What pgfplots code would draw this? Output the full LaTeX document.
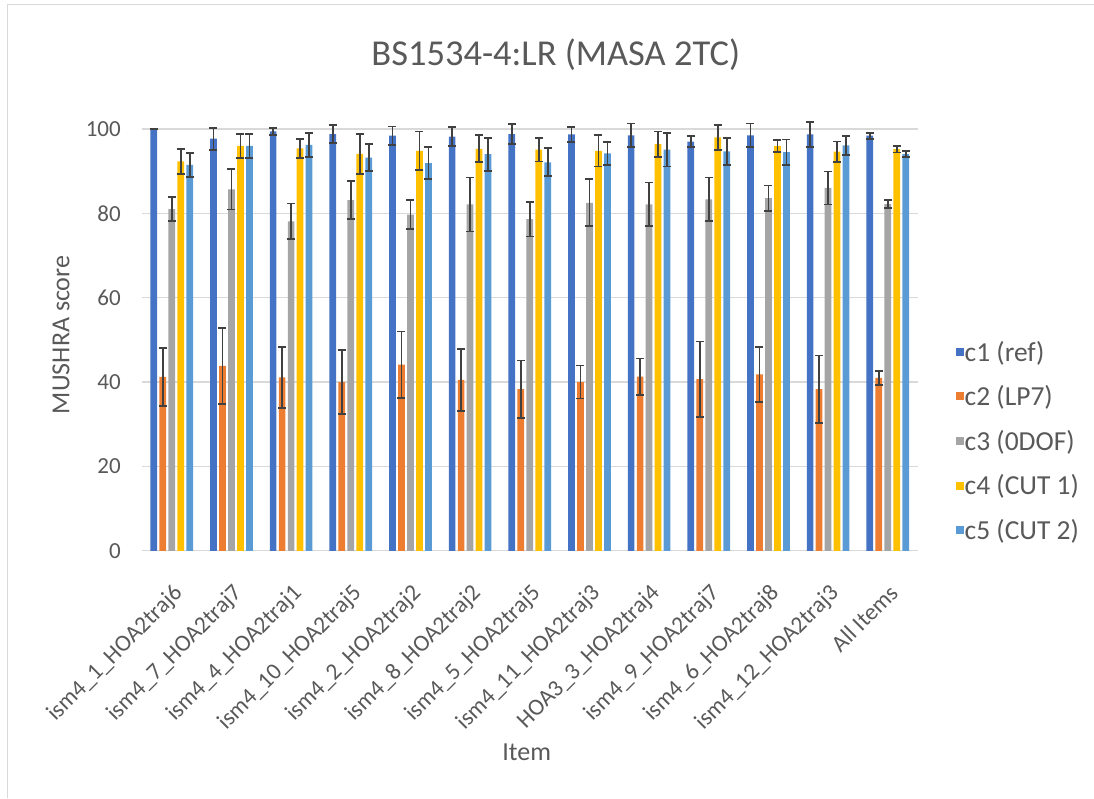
\documentclass[border=0pt]{standalone}
\usepackage{pgfplots}
\usepackage{pgfplotstable}
\pgfplotsset{compat=1.18}
\usepackage{fontspec}
\setmainfont{Carlito}

\definecolor{cA}{HTML}{4472C4}
\definecolor{cB}{HTML}{ED7D31}
\definecolor{cC}{HTML}{A5A5A5}
\definecolor{cD}{HTML}{FFC000}
\definecolor{cE}{HTML}{5B9BD5}
\definecolor{txt}{HTML}{595959}
\definecolor{grd}{HTML}{D9D9D9}
\definecolor{err}{HTML}{404040}

% x  mean/err for c1..c5
\pgfplotstableread{
x  a     ae   b     be   c     ce   d     de   e     ee
0  100.0 0.0  41.2  6.8  81.0  2.9  92.3  2.9  91.5  2.8
1  97.7  2.6  43.8  9.1  85.7  4.8  96.0  2.8  96.0  2.8
2  99.4  0.9  41.1  7.2  78.1  4.2  95.4  2.2  96.2  2.9
3  98.8  2.1  40.0  7.6  83.1  4.5  94.1  4.7  93.2  3.2
4  98.4  2.2  44.1  7.9  79.7  3.4  94.8  4.6  91.9  3.8
5  98.2  2.2  40.5  7.3  82.1  6.4  95.3  3.2  94.0  3.9
6  98.8  2.4  38.3  6.8  78.6  4.1  95.1  2.8  92.1  3.3
7  98.7  1.8  40.0  3.9  82.5  5.6  94.8  3.7  94.2  2.7
8  98.5  2.8  41.3  4.3  82.1  5.2  96.4  3.0  95.1  4.0
9  97.0  1.3  40.7  8.9  83.3  5.2  98.0  2.9  94.7  3.2
10 98.5  2.8  41.8  6.5  83.6  3.0  95.9  1.4  94.5  3.0
11 98.7  2.9  38.3  8.0  86.0  3.9  94.6  2.4  96.1  2.2
12 98.4  0.7  41.0  1.7  82.2  1.0  95.2  0.8  94.0  0.7
}\data

\begin{document}
\begin{tikzpicture}
\path (0,0) rectangle (1094pt,798pt);
\draw[grd, line width=1pt] (8pt,0) -- (8pt,793pt) -- (1094pt,793pt);
\node[txt, font=\fontsize{36.5}{40}\selectfont] at (556pt,743pt) {BS1534-4:LR (MASA 2TC)};
\begin{axis}[
  at={(142pt,247pt)}, anchor=south west,
  width=776pt, height=422pt, scale only axis,
  ybar, bar width=6.7pt,
  xmin=-0.5, xmax=12.5, ymin=0, ymax=100,
  ytick={0,20,40,60,80,100},
  xtick={0,...,12},
  xticklabels={ism4\_1\_HOA2traj6, ism4\_7\_HOA2traj7, ism4\_4\_HOA2traj1, ism4\_10\_HOA2traj5, ism4\_2\_HOA2traj2, ism4\_8\_HOA2traj2, ism4\_5\_HOA2traj5, ism4\_11\_HOA2traj3, HOA3\_3\_HOA2traj4, ism4\_9\_HOA2traj7, ism4\_6\_HOA2traj8, ism4\_12\_HOA2traj3, All Items},
  major tick length=0pt,
  axis line style={draw=none},
  ymajorgrids, grid style={grd, line width=1.3pt},
  clip=false,
  /pgf/number format/assume math mode=true,
  ticklabel style={txt},
  yticklabel style={font=\fontsize{23}{26}\selectfont, inner sep=0pt, xshift=-21pt},
  xticklabel style={font=\fontsize{23.5}{27}\selectfont, rotate=45, anchor=north east, inner sep=0pt},
  xticklabel shift=32pt,
  legend style={at={(axis description cs:1.045,0.26)}, anchor=west, draw=none, fill=none,
    font=\fontsize{27.5}{30}\selectfont, text=txt, row sep=21pt,
    nodes={inner sep=1pt}},
  legend cell align=left,
  legend image code/.code={\fill[#1, draw=none] (0pt,-4pt) rectangle (8pt,4pt);},
  error bars/y dir=both, error bars/y explicit,
  error bars/error bar style={err, line width=1.8pt},
  error bars/error mark options={err, line width=1.8pt, mark size=4pt, rotate=90},
]
\addplot[fill=cA, draw=none, bar shift=-18pt] table[x=x, y=a, y error=ae] {\data};
\addplot[fill=cB, draw=none, bar shift=-9pt] table[x=x, y=b, y error=be] {\data};
\addplot[fill=cC, draw=none, bar shift=0pt] table[x=x, y=c, y error=ce] {\data};
\addplot[fill=cD, draw=none, bar shift=9pt] table[x=x, y=d, y error=de] {\data};
\addplot[fill=cE, draw=none, bar shift=18pt] table[x=x, y=e, y error=ee] {\data};
\legend{c1 (ref), c2 (LP7), c3 (0DOF), c4 (CUT 1), c5 (CUT 2)}
\end{axis}
\node[txt, font=\fontsize{26}{30}\selectfont, rotate=90] at (61pt,463pt) {MUSHRA score};
\node[txt, font=\fontsize{26}{30}\selectfont] at (527pt,45pt) {Item};
\end{tikzpicture}
\end{document}
